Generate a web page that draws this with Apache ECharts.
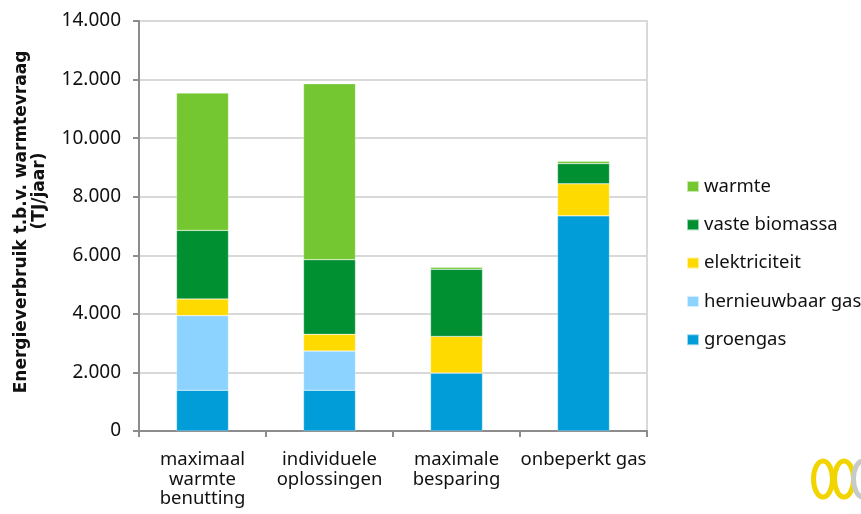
<!DOCTYPE html>
<html>
<head>
<meta charset="utf-8">
<script src="https://cdn.jsdelivr.net/npm/echarts@6/dist/echarts.min.js"></script>
<style>
  html, body { margin: 0; padding: 0; background: #fff; }
  #chart { width: 861px; height: 514px; }
</style>
</head>
<body>
<div id="chart"></div>
<script>
// Scenarios on the category axis
const categories = ['maximaal\nwarmte\nbenutting', 'individuele\noplossingen', 'maximale\nbesparing', 'onbeperkt gas'];

// Energy use per carrier (TJ/jaar), stacked bottom to top
const groengas      = [1390, 1390, 1980, 7350];
const hernieuwbaar  = [2550, 1340,    0,    0];
const elektriciteit = [ 570,  570, 1250, 1090];
const biomassa      = [2340, 2550, 2290,  690];
const warmte        = [4690, 6010,   70,   80];

const yTicks = [0, 2000, 4000, 6000, 8000, 10000, 12000, 14000];
const yTitle = ['Energieverbruik t.b.v. warmtevraag', '(TJ/jaar)'];

const FONT = 'Noto Sans';
const TXT = '#111';
const chart = echarts.init(document.getElementById('chart'));

function fmt(v) {
  return String(v).replace(/\B(?=(\d{3})+(?!\d))/g, '.');
}

function bar(name, data, color) {
  return {
    name, type: 'bar', stack: 'total', data,
    barWidth: 52,
    itemStyle: { color, borderColor: 'rgba(255,255,255,0.6)', borderWidth: 0.5 }
  };
}

// rotated two-line axis title
function titleLine(text, x, y) {
  return {
    type: 'text', x, y, rotation: Math.PI / 2,
    style: {
      text, fill: TXT, font: 'bold 17px "DejaVu Sans"',
      align: 'center', verticalAlign: 'middle'
    }
  };
}

// crescent-shaped logo ring
function ring(cx, color) {
  return {
    type: 'ellipse', shape: { cx, cy: 479, rx: 9.5, ry: 18 },
    style: { fill: 'none', stroke: color, lineWidth: 5 }
  };
}

chart.setOption({
  animation: false,
  grid: {
    left: 139, right: 214, top: 21, bottom: 83,
    outerBoundsMode: 'none',
    show: true, borderColor: '#d9d9d9', borderWidth: 2, backgroundColor: 'transparent'
  },
  legend: {
    orient: 'vertical',
    left: 686, top: 177, padding: 0,
    itemWidth: 12, itemHeight: 11, itemGap: 19.3,
    icon: 'rect',
    textStyle: { fontFamily: FONT, fontSize: 18.5, color: TXT },
    data: ['warmte', 'vaste biomassa', 'elektriciteit', 'hernieuwbaar gas', 'groengas']
  },
  xAxis: {
    type: 'category',
    data: categories,
    axisLine: { lineStyle: { color: '#8c8c8c', width: 2 } },
    axisTick: { show: true, length: 6, lineStyle: { color: '#8c8c8c', width: 2 } },
    axisLabel: {
      fontFamily: FONT, fontSize: 18.5, color: TXT, lineHeight: 19.5, margin: 19,
      interval: 0
    }
  },
  yAxis: {
    type: 'value',
    min: yTicks[0], max: yTicks[yTicks.length - 1], interval: 2000,
    axisLine: { show: true, lineStyle: { color: '#8c8c8c', width: 2 } },
    axisTick: { show: true, length: 6, lineStyle: { color: '#8c8c8c', width: 2 } },
    axisLabel: { fontFamily: FONT, fontSize: 19, color: TXT, margin: 18, formatter: fmt },
    splitLine: { lineStyle: { color: '#d9d9d9', width: 2 } }
  },
  series: [
    bar('groengas', groengas, '#009dd8'),
    bar('hernieuwbaar gas', hernieuwbaar, '#8dd3ff'),
    bar('elektriciteit', elektriciteit, '#ffda00'),
    bar('vaste biomassa', biomassa, '#008f31'),
    bar('warmte', warmte, '#75c731')
  ],
  graphic: [
    titleLine(yTitle[0], 22, 222),
    titleLine(yTitle[1], 40, 191),
    ring(823, '#f2d400'),
    ring(844, '#f2d400'),
    ring(863, '#c6cbc8')
  ]
});
</script>
</body>
</html>
